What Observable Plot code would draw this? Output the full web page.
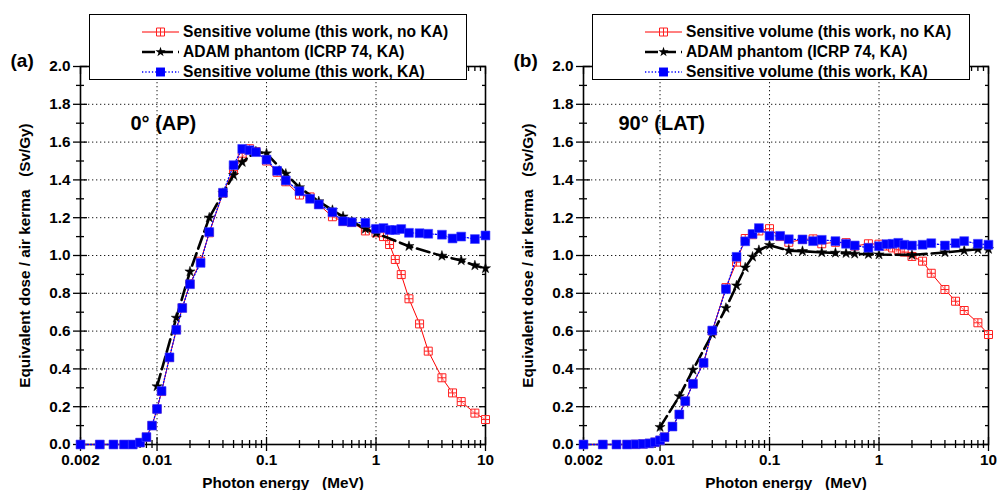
<!DOCTYPE html>
<html><head><meta charset="utf-8">
<script src="https://cdn.jsdelivr.net/npm/d3@7"></script>
<script src="https://cdn.jsdelivr.net/npm/@observablehq/plot@0.6"></script>
<style>
body{margin:0;background:#fff;}
#wrap{position:relative;width:998px;height:490px;display:flex;overflow:hidden;background:#fff}
#wrap>svg{flex:none}
.legend{position:absolute;top:14px;}
</style></head>
<body><div id="wrap"></div>
<script>
const FONT = '"Liberation Sans", Arial, Helvetica, sans-serif';

// Photon energies (MeV) for the sensitive-volume series
const energySV = [0.002,0.003,0.004,0.005,0.006,0.007,0.008,0.009,0.01,0.011,0.013,0.015,0.017,0.02,0.025,0.03,0.04,0.05,0.06,0.07,0.08,0.1,0.125,0.15,0.2,0.25,0.3,0.4,0.5,0.6,0.8,1,1.17,1.33,1.5,1.7,2,2.5,3,4,5,6,8,10];
// Panel (a) 0° (AP)
const svNoKA_A = [0,0,0,0,0,0.01,0.039,0.10,0.187,0.28,0.46,0.607,0.723,0.85,0.97,1.12,1.33,1.45,1.52,1.565,1.55,1.50,1.44,1.39,1.32,1.31,1.27,1.205,1.18,1.175,1.13,1.12,1.10,1.058,0.979,0.899,0.771,0.638,0.494,0.353,0.273,0.227,0.166,0.132];
const svKA_A = [0,0,0,0,0,0.01,0.039,0.10,0.188,0.283,0.461,0.607,0.722,0.848,0.961,1.124,1.332,1.478,1.564,1.557,1.547,1.507,1.448,1.397,1.34,1.30,1.27,1.229,1.181,1.176,1.173,1.141,1.145,1.135,1.135,1.14,1.12,1.118,1.115,1.11,1.09,1.10,1.087,1.106];
const energyAdamA = [0.01,0.015,0.02,0.03,0.04,0.05,0.06,0.08,0.1,0.15,0.2,0.3,0.4,0.5,0.6,0.8,1,2,4,6,8,10];
const adamA = [0.307,0.67,0.915,1.20,1.33,1.425,1.494,1.55,1.54,1.432,1.36,1.286,1.24,1.206,1.18,1.141,1.118,1.049,0.998,0.974,0.947,0.932];
// Panel (b) 90° (LAT)
const svNoKA_B = [0,0,0,0,0.001,0.003,0.006,0.012,0.022,0.039,0.095,0.159,0.229,0.321,0.432,0.60,0.83,0.965,1.09,1.11,1.13,1.142,1.10,1.07,1.085,1.088,1.062,1.07,1.068,1.05,1.062,1.06,1.05,1.04,1.03,1.018,0.995,0.97,0.906,0.82,0.758,0.709,0.644,0.582];
const svKA_B = [0,0,0,0,0.001,0.003,0.006,0.012,0.022,0.039,0.095,0.159,0.229,0.321,0.432,0.603,0.822,0.993,1.075,1.114,1.145,1.104,1.104,1.086,1.085,1.076,1.083,1.076,1.062,1.053,1.041,1.049,1.06,1.062,1.067,1.057,1.053,1.057,1.065,1.053,1.065,1.076,1.062,1.057];
const energyAdamB = [0.01,0.015,0.02,0.03,0.04,0.05,0.06,0.07,0.08,0.1,0.15,0.2,0.3,0.4,0.5,0.6,0.8,1,2,4,6,8,10];
const adamB = [0.092,0.255,0.395,0.585,0.722,0.841,0.936,0.993,1.028,1.055,1.026,1.023,1.016,1.014,1.012,1.009,1.007,1.005,1.003,1.016,1.026,1.033,1.034];

// Axis ticks and labels
const xMajor = [0.002,0.01,0.1,1,10];
const xMajorLabels = ["0.002","0.01","0.1","1","10"];
const xMinor = [0.003,0.004,0.005,0.006,0.007,0.008,0.009,0.02,0.03,0.04,0.05,0.06,0.07,0.08,0.09,0.2,0.3,0.4,0.5,0.6,0.7,0.8,0.9,2,3,4,5,6,7,8,9];
const xGrid = [0.01,0.1,1];
const yMajor = [0,0.2,0.4,0.6,0.8,1.0,1.2,1.4,1.6,1.8,2.0];
const yMinor = [0.1,0.3,0.5,0.7,0.9,1.1,1.3,1.5,1.7,1.9];
const yGrid = [0.2,0.4,0.6,0.8,1.0,1.2,1.4,1.6,1.8];

const seriesNames = ["Sensitive volume (this work, no KA)","ADAM phantom (ICRP 74, KA)","Sensitive volume (this work, KA)"];
const panelTags = ["(a)","(b)"];
const angleLabels = ["0° (AP)","90° (LAT)"];
const xTitle = "Photon energy   (MeV)";
const yTitle = "Equivalent dose / air kerma   (Sv/Gy)";

const squarePlus = {draw(ctx, size){
  const h = Math.sqrt(size)/2;
  ctx.moveTo(-h,-h); ctx.lineTo(h,-h); ctx.lineTo(h,h); ctx.lineTo(-h,h); ctx.closePath();
  ctx.moveTo(0,-h); ctx.lineTo(0,h); ctx.moveTo(-h,0); ctx.lineTo(h,0);
}};

function zip(E, V){ return E.map((e,i)=>({e, v:V[i]})); }

function panel(opts){
  const red = zip(energySV, opts.noKA), blue = zip(energySV, opts.ka), black = zip(opts.adamE, opts.adam);
  const tick = {stroke:"#000", strokeWidth:1.3, label:null};
  return Plot.plot({
    width: 499, height: 490,
    marginLeft: opts.ml, marginRight: opts.mr, marginTop: 66, marginBottom: 46,
    style: {fontFamily: FONT, fontWeight: "bold", fontSize: "15px", color: "#000", background: "transparent", overflow: "visible"},
    x: {type: "log", domain: [0.002, 10]},
    y: {domain: [0, 2]},
    marks: [
      Plot.gridX({ticks: xGrid, stroke: "#000", strokeOpacity: 0.9, strokeDasharray: "1.3,2.7", strokeWidth: 1}),
      Plot.gridY({ticks: yGrid, stroke: "#000", strokeOpacity: 0.9, strokeDasharray: "1.3,2.7", strokeWidth: 1}),
      // bottom axis (crossing ticks) with labels
      Plot.axisX({...tick, ticks: xMajor, tickSize: 7, tickPadding: 3, tickFormat: d => xMajorLabels[xMajor.indexOf(d)], fontSize: 15.3}),
      Plot.axisX({...tick, ticks: xMajor, tickSize: -7, fill: "none"}),
      Plot.axisX({...tick, ticks: xMinor, tickSize: 4, fill: "none"}),
      Plot.axisX({...tick, ticks: xMinor, tickSize: -4, fill: "none"}),
      // top mirror ticks
      Plot.axisX({...tick, anchor: "top", ticks: xMajor, tickSize: -7, fill: "none"}),
      Plot.axisX({...tick, anchor: "top", ticks: xMinor, tickSize: -4, fill: "none"}),
      // left axis
      Plot.axisY({...tick, ticks: yMajor, tickSize: 7, tickPadding: 3, tickFormat: d3.format(".1f"), fontSize: 15.3}),
      Plot.axisY({...tick, ticks: yMajor, tickSize: -7, fill: "none"}),
      Plot.axisY({...tick, ticks: yMinor, tickSize: 4, fill: "none"}),
      Plot.axisY({...tick, ticks: yMinor, tickSize: -4, fill: "none"}),
      // right mirror ticks
      Plot.axisY({...tick, anchor: "right", ticks: yMajor, tickSize: -7, fill: "none"}),
      Plot.axisY({...tick, anchor: "right", ticks: yMinor, tickSize: -4, fill: "none"}),
      Plot.frame({stroke: "#000", strokeWidth: 1.6}),
      // series
      Plot.line(red, {x: "e", y: "v", stroke: "#ff0000", strokeWidth: 1}),
      Plot.dot(red, {x: "e", y: "v", symbol: squarePlus, r: 4.5, stroke: "#ff2020", strokeWidth: 1, fill: "#fff", fillOpacity: 0.5}),
      Plot.line(black, {x: "e", y: "v", stroke: "#000", strokeWidth: 2.6, strokeDasharray: "13,5"}),
      Plot.dot(black, {x: "e", y: "v", symbol: "star", r: 3.2, fill: "#000", stroke: "#000", strokeWidth: 0.5}),
      Plot.line(blue, {x: "e", y: "v", stroke: "#0000ff", strokeWidth: 1.3, strokeDasharray: "1.3,2"}),
      Plot.dot(blue, {x: "e", y: "v", symbol: "square", r: 5, fill: "#0000ff", stroke: "#4040ff", strokeWidth: 0.6}),
      // texts
      Plot.text([opts.angle], {text: d => d, frameAnchor: "top-left", dx: opts.angleDx, dy: 49, textAnchor: "start", lineAnchor: "top", fontSize: 20, fontWeight: "bold"}),
      Plot.text([opts.tag], {text: d => d, frameAnchor: "top-left", dx: -70, dy: -6, textAnchor: "start", lineAnchor: "middle", fontSize: 19, fontWeight: "bold"}),
      Plot.text([xTitle], {text: d => d, frameAnchor: "bottom", dy: 33, lineAnchor: "top", fontSize: 15.3, fontWeight: "bold"}),
      Plot.text([yTitle], {text: d => d, frameAnchor: "left", dx: -55, rotate: -90, lineAnchor: "middle", textAnchor: "middle", fontSize: 15.3, fontWeight: "bold"})
    ]
  });
}

const wrap = document.getElementById("wrap");
wrap.appendChild(panel({noKA: svNoKA_A, ka: svKA_A, adamE: energyAdamA, adam: adamA, ml: 80, mr: 14, angle: angleLabels[0], tag: panelTags[0], angleDx: 50}));
wrap.appendChild(panel({noKA: svNoKA_B, ka: svKA_B, adamE: energyAdamB, adam: adamB, ml: 84, mr: 10, angle: angleLabels[1], tag: panelTags[1], angleDx: 35}));

function legend(left){
  const W = 378, H = 66;
  const svg = d3.create("svg").attr("class","legend").attr("width", W).attr("height", H)
    .style("left", left + "px").style("font-family", FONT).style("font-weight","bold").style("font-size","15.6px");
  svg.append("rect").attr("x",0.5).attr("y",0.5).attr("width",W-1).attr("height",H-1).attr("fill","#fff").attr("stroke","#000").attr("stroke-width",1);
  const rows = [18, 38, 58];
  const x0 = 53, x1 = 90, xm = 71.5;
  // row 1 red
  svg.append("line").attr("x1",x0).attr("x2",x1).attr("y1",rows[0]).attr("y2",rows[0]).attr("stroke","#ff0000").attr("stroke-width",1);
  svg.append("path").attr("transform",`translate(${xm},${rows[0]})`).attr("d", d3.symbol(squarePlus, 64)()).attr("fill","#fff").attr("stroke","#ff2020");
  // row 2 black
  svg.append("line").attr("x1",x0).attr("x2",x1).attr("y1",rows[1]).attr("y2",rows[1]).attr("stroke","#000").attr("stroke-width",2.6).attr("stroke-dasharray","13,5");
  svg.append("path").attr("transform",`translate(${xm},${rows[1]})`).attr("d", d3.symbol(d3.symbolStar, 32)()).attr("fill","#000");
  // row 3 blue
  svg.append("line").attr("x1",x0).attr("x2",x1).attr("y1",rows[2]).attr("y2",rows[2]).attr("stroke","#0000ff").attr("stroke-width",1.3).attr("stroke-dasharray","1.3,2");
  svg.append("path").attr("transform",`translate(${xm},${rows[2]})`).attr("d", d3.symbol(d3.symbolSquare, 80)()).attr("fill","#0000ff");
  seriesNames.forEach((name,i)=>{
    svg.append("text").attr("x",94).attr("y",rows[i]).attr("dy","0.35em").text(name);
  });
  wrap.appendChild(svg.node());
}
legend(89);
legend(592);
</script>
</body></html>
